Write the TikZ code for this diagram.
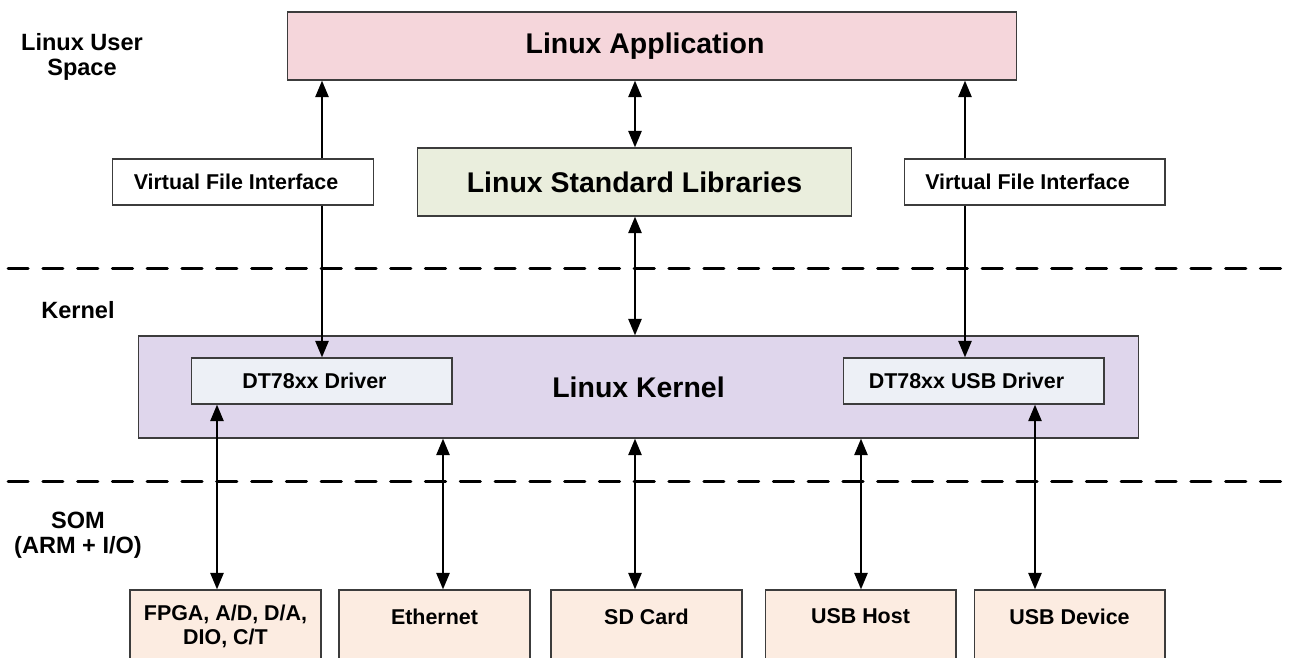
\documentclass[tikz,border=0pt]{standalone}
\usepackage{fontspec}
\setmainfont{Liberation Sans}
\usetikzlibrary{arrows.meta,positioning}

\definecolor{boxline}{HTML}{3C3C3C}
\definecolor{appfill}{HTML}{F5D6DB}
\definecolor{libfill}{HTML}{EAEEDD}
\definecolor{kernfill}{HTML}{DFD6EC}
\definecolor{drvfill}{HTML}{EDF0F6}
\definecolor{iofill}{HTML}{FCECE1}

\newcommand{\lpad}{\hspace*{0.28cm}}

\begin{document}
\begin{tikzpicture}[x=0.02cm,y=-0.02cm,
  >={Triangle[length=9.5pt,width=7.4pt]},
  box/.style={draw=boxline,line width=0.6pt,inner sep=0pt},
  bigbox/.style={box,minimum height=1.36cm,font=\bfseries\fontsize{16.2}{19}\selectfont},
  smallbox/.style={box,minimum width=5.22cm,minimum height=0.92cm,font=\bfseries\fontsize{12.2}{14.2}\selectfont},
  iobox/.style={box,fill=iofill,minimum width=3.82cm,minimum height=1.8cm},
  iotext/.style={inner sep=0pt,align=center,font=\bfseries\fontsize{12.2}{13.6}\selectfont},
  lbl/.style={align=center,font=\bfseries\fontsize{13.4}{14}\selectfont},
  conn/.style={line width=1.6pt},
  sepline/.style={line width=1.7pt,line cap=round,dash pattern=on 11.5pt off 8.3pt}]

\useasboundingbox (0,0) rectangle (1295,657);
\clip (0,0) rectangle (1295,657);

\draw[sepline] (8,268) -- (1295,268);
\draw[sepline] (8,481) -- (1295,481);

\node[lbl] (userlbl) at (82,57) {Linux User\\Space};
\node[lbl] (kernlbl) at (78,310) {Kernel};
\node[lbl] (somlbl) at (78,535) {SOM\\(ARM + I/O)};

\node[bigbox,fill=appfill,minimum width=14.6cm] (app) at (652,46) {Linux Application\lpad};
\node[bigbox,fill=libfill,minimum width=8.7cm] (lib) at (634.5,182) {Linux Standard Libraries};
\node[smallbox,fill=white] (vfiL) at (243,182) {Virtual File Interface\lpad};
\node[smallbox,fill=white] (vfiR) at (1034.5,182) {Virtual File Interface\lpad};

\node[bigbox,fill=kernfill,minimum width=20.02cm,minimum height=2.04cm] (kern) at (638.5,387) {Linux Kernel};
\node[smallbox,fill=drvfill] (drvL) at (321.5,381) {DT78xx Driver\lpad};
\node[smallbox,fill=drvfill] (drvR) at (973.5,381) {DT78xx USB Driver\lpad};

\node[iobox] (fpga) at (225.5,635) {};
\node[iobox] (eth) at (434.5,635) {};
\node[iobox] (sd) at (646.5,635) {};
\node[iobox] (host) at (860.5,635) {};
\node[iobox] (dev) at (1069.5,635) {};
\node[iotext,below=0.31cm of fpga.north] (fpgatxt) {FPGA, A/D, D/A,\\DIO, C/T};
\node[iotext,below=0.38cm of eth.north] (ethtxt) {Ethernet};
\node[iotext,below=0.38cm of sd.north] (sdtxt) {SD Card};
\node[iotext,below=0.38cm of host.north] (hosttxt) {USB Host};
\node[iotext,below=0.38cm of dev.north] (devtxt) {USB Device};

\coordinate (colA) at (322,0);
\coordinate (colB) at (635,0);
\coordinate (colC) at (965,0);
\coordinate (colF) at (217,0);
\coordinate (colE) at (443,0);
\coordinate (colH) at (861,0);
\coordinate (colD) at (1035,0);

\draw[conn,->] (colA |- vfiL.north) -- (colA |- app.south);
\draw[conn,->] (colA |- vfiL.south) -- (colA |- drvL.north);
\draw[conn,->] (colC |- vfiR.north) -- (colC |- app.south);
\draw[conn,->] (colC |- vfiR.south) -- (colC |- drvR.north);
\draw[conn,<->] (colB |- app.south) -- (colB |- lib.north);
\draw[conn,<->] (colB |- lib.south) -- (colB |- kern.north);

\draw[conn,<->] (colF |- fpga.north) -- (colF |- drvL.south);
\draw[conn,<->] (colE |- eth.north) -- (colE |- kern.south);
\draw[conn,<->] (colB |- sd.north) -- (colB |- kern.south);
\draw[conn,<->] (colH |- host.north) -- (colH |- kern.south);
\draw[conn,<->] (colD |- dev.north) -- (colD |- drvR.south);
\end{tikzpicture}
\end{document}
